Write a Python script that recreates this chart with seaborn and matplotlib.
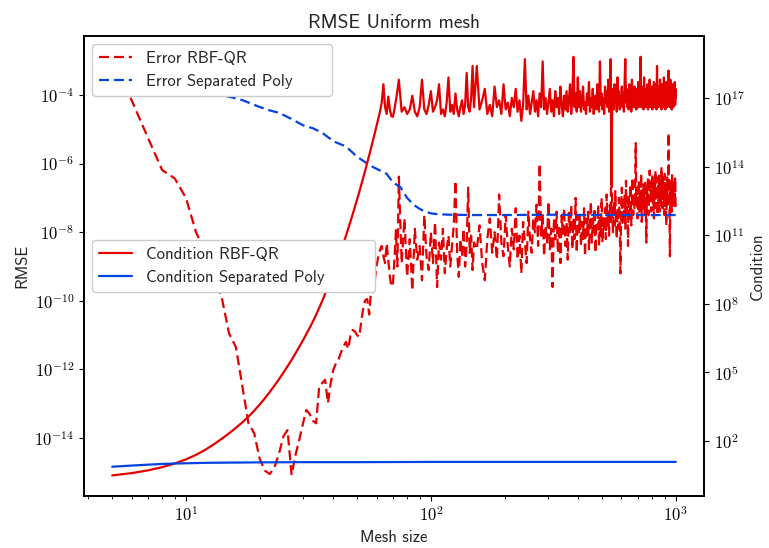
import numpy as np
import matplotlib
matplotlib.use("Agg")
import matplotlib.pyplot as plt
import matplotlib.ticker as mticker
import seaborn as sns

# ---------------- data (values as log10 exponents) ----------------
mesh_smooth = list(range(5, 75))
mesh_noisy = (list(range(76, 151, 2)) + list(range(154, 399, 4))
              + list(range(402, 999, 4)) + [1000])
mesh_rbf = mesh_smooth + mesh_noisy

err_rbf_smooth = [
    -2.89, -4.15, -5.25, -6.19, -6.43, -7.0, -8.0, -8.6, -9.3, -9.9,
    -10.95, -11.35, -12.5, -13.57, -13.86, -14.6, -14.95, -15.05, -14.85, -14.45,
    -13.95, -13.77, -15.08, -14.5, -14.06, -13.6, -13.18, -13.3, -13.5, -13.57,
    -12.5, -12.4, -12.3, -12.98, -12.4, -12.0, -11.82, -11.7, -11.5, -11.33,
    -11.2, -11.4, -11.0, -10.85, -10.9, -11.0, -11.05, -10.6, -10.2, -9.98,
    -9.95, -10.4, -9.69, -9.75, -9.4, -9.0, -8.7, -8.52, -8.4, -8.7,
    -8.9, -8.33, -8.8, -9.3, -9.59, -9.5, -8.8, -7.94, -9.0, -6.38,
]
err_rbf_noisy = [
    # 76 .. 150 step 2
    -8.9, -7.6, -9.3, -8.2, -9.7, -7.9, -8.8, -8.4, -9.4, -7.5,
    -8.7, -9.1, -8.0, -8.9, -7.7, -9.6, -8.3, -8.8, -7.9, -9.2,
    -8.5, -8.1, -9.0, -8.4, -7.8, -6.5, -8.6, -9.3, -8.2, -8.7,
    -7.9, -9.0, -8.4, -6.7, -8.6, -8.1, -9.1, -8.3,
    # 154 .. 398 step 4
    -8.5, -7.8, -8.9, -9.4, -8.2, -7.6, -8.6, -8.0, -8.8, -6.9,
    -8.3, -8.7, -7.5, -8.4, -9.0, -7.9, -8.5, -7.3, -8.8, -8.1,
    -9.2, -7.7, -8.3, -8.9, -7.4, -8.2, -8.6, -7.6, -8.0, -7.2,
    -8.4, -6.0, -8.1, -7.5, -8.7, -7.8, -8.3, -7.1, -8.5, -7.9,
    -9.6, -7.6, -8.2, -7.4, -8.6, -7.8, -8.9, -7.5, -8.1, -7.3,
    -8.4, -7.7, -8.8, -7.4, -8.0, -7.2, -8.5, -7.6, -8.2, -7.0,
    -8.6, -7.5,
    # 402 .. 998 step 4
    -8.0, -7.5, -8.4, -7.7, -8.2, -7.3, -8.7, -7.6, -8.1, -7.4,
    -8.5, -7.8, -7.1, -8.3, -7.6, -8.0, -7.3, -8.6, -7.7, -7.9,
    -7.2, -8.4, -7.5, -8.1, -7.0, -8.3, -7.6, -7.9, -7.3, -8.2,
    -6.9, -7.8, -7.4, -8.1, -7.2, -7.7, -5.6, -7.5, -8.0, -7.1,
    -7.8, -6.8, -7.6, -8.2, -7.3, -7.9, -7.0, -7.6, -9.2, -7.3,
    -6.7, -7.8, -7.1, -7.5, -6.9, -7.9, -6.5, -7.4, -7.0, -8.4,
    -6.9, -7.6, -7.2, -6.6, -7.8, -7.0, -6.4, -7.5, -6.9, -7.3,
    -6.8, -5.4, -7.2, -6.7, -7.6, -7.0, -6.5, -7.4, -6.8, -7.1,
    -6.3, -7.7, -6.9, -7.3, -6.6, -7.0, -7.5, -6.5, -7.2, -8.3,
    -6.7, -7.2, -6.4, -7.5, -6.9, -6.2, -7.1, -6.6, -7.4, -6.8,
    -6.3, -7.2, -6.7, -7.6, -6.5, -7.0, -6.2, -7.3, -6.8, -6.4,
    -7.5, -6.6, -7.1, -6.3, -7.4, -6.8, -6.5, -7.2, -6.1, -6.9,
    -7.3, -6.4, -7.0, -6.7, -7.5, -6.3, -7.1, -6.6, -7.8, -6.9,
    -6.4, -7.2, -6.7, -5.1, -6.9, -7.3, -8.7, -6.5, -7.0, -6.6,
    -7.4, -6.3, -7.1, -6.8, -6.5, -7.3, -6.6, -7.0, -6.4, -7.2,
    # 1000
    -7.3,
]
err_rbf_log = err_rbf_smooth + err_rbf_noisy

cond_rbf_smooth = [
    0.50, 0.60, 0.72, 0.86, 1.02, 1.20, 1.40, 1.62, 1.86, 2.10,
    2.34, 2.58, 2.82, 3.07, 3.33, 3.60, 3.87, 4.15, 4.43, 4.71,
    4.99, 5.27, 5.55, 5.83, 6.11, 6.39, 6.67, 6.95, 7.23, 7.52,
    7.82, 8.12, 8.43, 8.74, 9.05, 9.37, 9.69, 10.01, 10.33, 10.65,
    10.97, 11.29, 11.61, 11.93, 12.25, 12.57, 12.89, 13.21, 13.53, 13.85,
    14.17, 14.49, 14.81, 15.13, 15.45, 15.77, 16.09, 16.41, 16.80, 17.60,
    16.6, 16.3, 17.06, 16.5, 16.2, 16.18, 16.5, 16.9, 17.3, 17.8,
]
cond_rbf_noisy = [
    # 76 .. 150 step 2
    16.4, 16.6, 16.3, 16.5, 17.1, 16.4, 16.2, 16.6, 17.8, 16.5,
    16.3, 16.7, 17.3, 16.4, 16.6, 16.9, 17.6, 16.3, 16.5, 16.2,
    16.8, 17.9, 16.4, 16.7, 16.3, 17.2, 16.5, 16.2, 16.6, 16.9,
    16.3, 16.7, 18.1, 16.6, 16.4, 17.0, 18.4, 16.6,
    # 154 .. 398 step 4
    18.4, 16.5, 16.9, 17.4, 16.3, 16.7, 16.2, 17.5, 16.6, 16.9,
    16.3, 17.6, 16.5, 16.8, 16.2, 17.0, 16.6, 17.4, 16.4, 16.9,
    16.0, 16.7, 18.7, 16.5, 17.1, 16.3, 16.8, 17.3, 16.4, 16.9,
    16.2, 17.2, 16.6, 18.6, 16.5, 17.0, 16.3, 16.8, 17.4, 16.4,
    16.9, 16.2, 17.3, 16.6, 17.0, 16.3, 17.5, 16.7, 16.2, 17.1,
    16.5, 17.3, 16.4, 16.9, 17.6, 16.3, 17.0, 18.8, 16.6, 17.2,
    16.4, 17.9,
    # 402 .. 998 step 4
    16.6, 17.3, 16.4, 16.9, 17.5, 16.5, 16.8, 16.3, 17.2, 16.7,
    17.7, 16.4, 17.0, 16.6, 17.4, 16.3, 16.9, 17.1, 16.5, 17.6,
    16.8, 16.4, 18.6, 16.7, 17.2, 16.5, 17.0, 16.3, 17.5, 16.8,
    17.3, 16.6, 17.8, 16.4, 17.1, 18.7, 13.2, 16.9, 17.4, 16.5,
    17.6, 16.8, 17.2, 16.4, 17.9, 16.7, 17.3, 16.5, 17.0, 16.8,
    17.5, 16.6, 17.2, 16.4, 17.7, 18.7, 16.8, 17.4, 16.6, 17.1,
    16.5, 17.6, 16.9, 17.3, 16.4, 17.8, 16.7, 17.2, 16.6, 17.5,
    16.8, 17.4, 16.5, 17.0, 16.7, 17.7, 16.6, 17.3, 16.9, 18.8,
    16.6, 17.5, 16.8, 17.2, 16.5, 17.9, 16.7, 17.4, 16.6, 17.1,
    16.9, 17.6, 16.5, 17.3, 16.8, 17.8, 16.6, 17.2, 16.7, 17.5,
    16.5, 17.4, 16.9, 17.7, 16.6, 17.2, 16.8, 17.6, 16.5, 18.4,
    16.8, 17.3, 16.6, 17.5, 16.9, 17.8, 16.7, 17.2, 16.5, 17.6,
    16.8, 17.4, 16.6, 17.9, 16.9, 17.3, 16.5, 17.7, 16.8, 17.2,
    16.6, 17.5, 16.9, 18.2, 16.7, 17.4, 16.6, 17.8, 16.9, 17.3,
    16.5, 17.6, 16.8, 17.2, 16.6, 17.5, 16.9, 17.7, 16.7, 17.4,
    # 1000
    17.0,
]
cond_rbf_log = cond_rbf_smooth + cond_rbf_noisy

mesh_poly = [5, 6, 7, 8, 9, 10, 12, 14, 16, 17, 20, 22, 24, 27, 30, 33, 36, 40,
             45, 50, 55, 58, 62, 66, 70, 75, 80, 85, 90, 95, 100, 105, 110, 120,
             150, 200, 300, 500, 700, 1000]
err_poly_log = [-3.0, -3.2, -3.35, -3.5, -3.6, -3.7, -3.85, -4.0, -4.1, -4.15,
                -4.35, -4.45, -4.52, -4.7, -4.88, -4.97, -5.1, -5.35, -5.5, -5.8,
                -6.0, -6.1, -6.2, -6.3, -6.55, -6.68, -7.0, -7.2, -7.32, -7.4,
                -7.45, -7.47, -7.48, -7.49, -7.5, -7.5, -7.49, -7.5, -7.5, -7.5]

mesh_cpoly = [5, 6, 7, 8, 9, 10, 12, 15, 20, 30, 50, 100, 1000]
cond_poly_log = [0.88, 0.93, 0.97, 1.0, 1.02, 1.03, 1.05, 1.06, 1.07, 1.08,
                 1.08, 1.09, 1.09]

labels_err = ["Error RBF-QR", "Error Separated Poly"]
labels_cond = ["Condition RBF-QR", "Condition Separated Poly"]

assert len(mesh_rbf) == len(err_rbf_log) == len(cond_rbf_log)

RED = "#e50000"
BLUE = "#0343df"
LW = 1.6
DASH = (0, (4.5, 2.2))

# ---------------- style ----------------
sns.set_style("ticks")
plt.rcParams.update({
    "font.family": ["cmss10", "DejaVu Sans"],
    "mathtext.fontset": "cm",
    "axes.unicode_minus": False,
    "font.size": 12,
    "axes.edgecolor": "black",
    "axes.linewidth": 1.25,
    "xtick.color": "black",
    "ytick.color": "black",
    "xtick.labelsize": 12,
    "ytick.labelsize": 12,
    "legend.fontsize": 12,
})

fig, ax1 = plt.subplots(figsize=(7.69, 5.48), dpi=100)
fig.subplots_adjust(left=84 / 769, right=704 / 769,
                    bottom=1 - 496 / 548, top=1 - 36 / 548)
ax2 = ax1.twinx()

sns.lineplot(x=mesh_rbf, y=10.0 ** np.array(err_rbf_log), ax=ax1, color=RED,
             linestyle=DASH, lw=LW, label=labels_err[0], sort=False)
sns.lineplot(x=mesh_poly, y=10.0 ** np.array(err_poly_log), ax=ax1, color=BLUE,
             linestyle=DASH, lw=LW, label=labels_err[1] + "      ", sort=False)
sns.lineplot(x=mesh_rbf, y=10.0 ** np.array(cond_rbf_log), ax=ax2, color=RED,
             lw=LW, label=labels_cond[0], sort=False)
sns.lineplot(x=mesh_cpoly, y=10.0 ** np.array(cond_poly_log), ax=ax2, color=BLUE,
             lw=LW, label=labels_cond[1] + "        ", sort=False)

ax1.set_xscale("log")
ax1.set_yscale("log")
ax2.set_yscale("log")
ax1.set_ylim(10 ** -15.69, 10 ** -2.28)
ax2.set_ylim(10 ** -0.40, 10 ** 19.71)

def pow_fmt(v, pos):
    return r"$10^{%d}$" % int(round(np.log10(v)))

ax1.xaxis.set_major_locator(mticker.LogLocator(base=10, numticks=10))
ax1.xaxis.set_minor_locator(mticker.LogLocator(base=10, subs=np.arange(2, 10), numticks=20))
ax1.xaxis.set_major_formatter(mticker.FuncFormatter(pow_fmt))
ax1.xaxis.set_minor_formatter(mticker.NullFormatter())

ax1.yaxis.set_major_locator(mticker.FixedLocator([10.0 ** e for e in range(-14, -3, 2)]))
ax1.yaxis.set_minor_locator(mticker.NullLocator())
ax1.yaxis.set_major_formatter(mticker.FuncFormatter(pow_fmt))

ax2.yaxis.set_major_locator(mticker.FixedLocator([10.0 ** e for e in range(2, 18, 3)]))
ax2.yaxis.set_minor_locator(mticker.NullLocator())
ax2.yaxis.set_major_formatter(mticker.FuncFormatter(pow_fmt))

ax1.set_xlabel("Mesh size")
ax1.set_ylabel("RMSE")
ax2.set_ylabel("Condition", labelpad=4)
ax1.set_title("RMSE Uniform mesh", fontsize=14)

ax1.legend(loc="upper left", framealpha=1)
ax2.legend(loc="center left", framealpha=1)

fig.savefig("out.png", dpi=100)
